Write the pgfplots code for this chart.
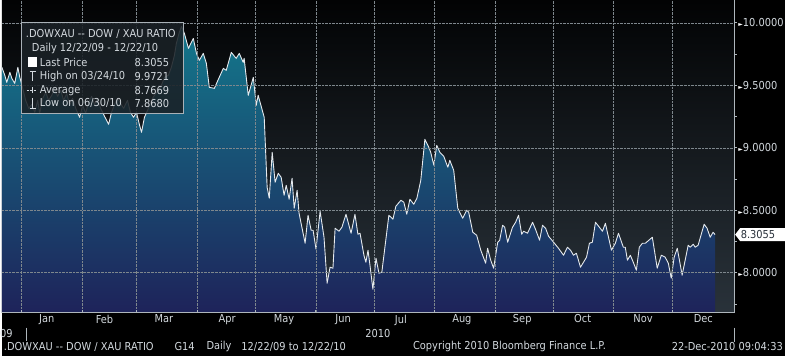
\documentclass[border=0pt]{standalone}
\usepackage{pgfplots}
\pgfplotsset{compat=1.18}
\usepackage{pgfplotstable}
\usepackage{fontspec}
\setmainfont{DejaVu Sans}[FakeStretch=0.9, Ligatures=NoCommon]
\newfontfamily\symfont{DejaVu Sans}
\definecolor{txt}{HTML}{D3D9DE}
\definecolor{gridc}{HTML}{7E878D}
\definecolor{axc}{HTML}{AEB6BC}
\definecolor{bgtop}{HTML}{020304}
\definecolor{bgmid}{HTML}{161C1F}
\definecolor{bgbot}{HTML}{29323A}
\definecolor{filltop}{HTML}{13788C}
\definecolor{fillmid}{HTML}{0E4E72}
\definecolor{fillbot}{HTML}{1E235A}
\definecolor{legbg}{HTML}{1A2126}
\definecolor{legborder}{HTML}{A9B1B7}
\definecolor{linec}{HTML}{E6EAEE}

\pgfplotstableread{
day value
-10.2 9.644
-8.7 9.580
-7.7 9.524
-6.1 9.604
-5.1 9.556
-3.6 9.516
-2.0 9.644
-1.0 9.564
0.5 9.476
2.0 9.380
3.6 9.316
5.1 9.348
6.7 9.284
8.2 9.380
9.2 9.276
10.8 9.396
12.3 9.444
13.8 9.380
15.4 9.420
16.9 9.476
18.4 9.412
20.0 9.460
21.5 9.380
23.1 9.436
24.6 9.340
26.1 9.396
27.7 9.316
29.7 9.244
31.3 9.340
32.8 9.276
34.3 9.364
35.9 9.412
37.4 9.348
38.9 9.396
40.5 9.316
42.5 9.252
44.6 9.188
46.1 9.284
47.6 9.348
49.2 9.396
50.7 9.356
52.3 9.316
54.3 9.380
55.8 9.284
57.4 9.244
58.9 9.284
60.5 9.180
61.5 9.124
63.0 9.244
64.6 9.300
66.6 9.380
68.1 9.420
70.2 9.460
71.7 9.500
73.3 9.564
75.3 9.580
76.8 9.644
78.4 9.740
79.4 9.836
80.9 9.924
82.0 9.9721
83.5 9.916
85.6 9.796
88.1 9.876
89.7 9.756
91.2 9.700
93.2 9.756
94.8 9.676
96.3 9.484
98.9 9.476
101.4 9.564
103.5 9.636
105.0 9.620
107.6 9.764
110.1 9.716
111.7 9.756
113.7 9.684
114.2 9.716
116.3 9.420
118.9 9.564
120.4 9.340
121.4 9.420
124.5 9.244
126.0 8.684
127.1 8.596
128.6 8.964
130.1 8.724
131.7 8.796
133.2 8.764
134.7 8.620
135.8 8.700
137.3 8.588
138.8 8.756
139.9 8.516
141.4 8.660
142.4 8.476
145.5 8.236
147.0 8.460
148.6 8.340
149.6 8.340
151.1 8.188
153.2 8.492
155.2 8.284
156.8 7.916
158.3 8.044
159.8 8.036
160.9 8.356
162.9 8.332
164.4 8.364
166.5 8.468
169.1 8.316
171.1 8.468
172.6 8.308
173.7 8.316
175.7 8.140
176.7 8.084
177.8 8.180
178.8 8.060
180.3 7.868
181.9 8.116
183.4 7.996
184.9 8.004
188.5 8.460
190.6 8.428
192.1 8.532
194.7 8.580
196.2 8.564
197.7 8.468
199.3 8.588
201.3 8.548
202.9 8.596
204.9 8.740
207.0 9.068
209.0 9.004
210.0 8.964
211.6 8.860
213.1 9.020
214.7 8.964
216.7 8.932
218.8 8.844
219.8 8.900
221.8 8.820
223.9 8.516
226.4 8.436
228.5 8.500
229.5 8.484
231.6 8.324
233.6 8.300
235.7 8.180
238.2 8.076
239.2 8.196
240.8 8.100
242.3 8.036
244.4 8.244
245.4 8.260
246.9 8.380
248.0 8.364
249.5 8.244
252.0 8.364
253.6 8.404
255.1 8.460
256.7 8.308
257.7 8.332
259.7 8.316
262.3 8.404
263.8 8.348
265.9 8.260
267.4 8.380
269.0 8.356
270.5 8.292
273.1 8.244
275.6 8.196
278.2 8.140
280.2 8.204
281.8 8.180
283.3 8.140
284.8 8.156
286.9 8.044
290.0 8.124
291.5 8.236
293.0 8.244
294.6 8.404
296.6 8.364
298.2 8.332
299.7 8.396
300.7 8.324
302.8 8.180
304.8 8.236
306.4 8.316
308.9 8.204
309.9 8.204
311.0 8.100
312.5 8.140
314.0 8.084
315.6 8.020
317.1 8.204
318.7 8.236
320.2 8.236
323.8 8.284
326.3 8.036
328.4 8.140
330.4 8.124
332.0 8.076
333.5 7.956
335.0 8.124
336.6 8.196
339.1 7.980
342.2 8.220
343.2 8.204
344.8 8.228
345.8 8.204
347.3 8.220
350.4 8.388
351.9 8.356
353.5 8.284
355.0 8.324
356.0 8.3055
}\ratio

\begin{document}
\begin{tikzpicture}[x=1bp,y=1bp,font=\fontsize{11}{13}\selectfont]
\fill[black] (0,-43) rectangle (785,313);
\shade[top color=bgtop, middle color=bgmid, bottom color=bgbot] (0,0) rectangle (734,313);
\begin{axis}[
  at={(0,0)}, anchor=south west,
  scale only axis, width=734bp, height=313bp,
  xmin=-10.25, xmax=365.8, ymin=7.68, ymax=10.18,
  axis on top,
  axis x line*=bottom, axis y line*=right,
  axis line style={color=axc, line width=0.8pt},
  xtick={0,31,59,90,120,151,181,212,243,273,304,334},
  xticklabels={},
  xtick align=inside,
  x tick style={color=axc, line width=0.8pt},
  major tick length=3bp, minor tick length=2.5bp,
  extra x ticks={12.8,42.5,73,105.5,134.7,165,194.7,226,257,288,319,350},
  extra x tick labels={Jan,Feb,Mar,Apr,May,Jun,Jul,Aug,Sep,Oct,Nov,Dec},
  extra x tick style={grid=none, major tick length=0pt},
  xticklabel style={text=txt, font=\fontsize{11}{13}\selectfont, yshift=1.5bp},
  ytick={8,8.5,9,9.5,10},
  minor ytick={7.75,8.25,8.75,9.25,9.75},
  ytick align=outside,
  y tick style={color=axc, line width=0.8pt},
  yticklabel pos=right,
  yticklabel={{\symfont\fontsize{6}{6}\selectfont\textcolor{white}{►}}\pgfmathprintnumber[fixed,fixed zerofill,precision=4]{\tick}},
  yticklabel style={text=txt, anchor=west, inner sep=0pt, xshift=1bp, font=\fontsize{11}{13}\selectfont},
  /pgf/number format/assume math mode=true,
  grid=major,
  major grid style={densely dotted, color=gridc, line width=0.6pt},
  clip=true,
]
\addplot[draw=none, top color=filltop, middle color=fillmid, bottom color=fillbot] table[x=day,y=value] {\ratio} \closedcycle;
\addplot[color=linec, line width=0.9pt, line join=round] table[x=day,y=value] {\ratio};
\end{axis}
% legend box
\fill[legbg, opacity=0.88] (20,200) rectangle (182,291);
\draw[legborder, line width=0.7pt] (20,200) rectangle (182,291);
\begin{scope}[every node/.style={text=txt, inner sep=0pt, anchor=west}]
\node at (24,279) {.DOWXAU {-}{-} DOW / XAU RATIO};
\node at (30,265) {Daily 12/22/09 - 12/22/10};
\node at (38,251) {Last Price};
\node at (38,237) {High on 03/24/10};
\node at (38,223) {Average};
\node at (38,210) {Low on 06/30/10};
\node at (133,251) {8.3055};
\node at (133,237) {9.9721};
\node at (133,223) {8.7669};
\node at (133,210) {7.8680};
\end{scope}
\fill[white] (26,246) rectangle (35,256);
\draw[txt, line width=0.8pt] (28,242) -- (34,242) (31,242) -- (31,232);
\draw[txt, line width=0.7pt, dash pattern=on 2bp off 1.5bp] (25,223) -- (35,223);
\draw[txt, line width=0.8pt] (31,220) -- (31,226);
\draw[txt, line width=0.8pt] (31,215) -- (31,205) (28,205) -- (34,205);
% last price tag
\fill[white] (735,78.3) -- (740,84.8) -- (785,84.8) -- (785,71.8) -- (740,71.8) -- cycle;
\node[anchor=west, inner sep=0pt, text={rgb,255:red,40;green,48;blue,58}] at (740.5,78.3) {8.3055};
% second row of the date axis
\node[anchor=west, inner sep=0pt, text=txt] at (-2,-21) {09};
\draw[axc, line width=0.8pt] (25,-15) -- (25,-28);
\node[inner sep=0pt, text=txt] at (377,-21) {2010};
\draw[axc, line width=0.8pt] (734,-15) -- (734,-29);
% footer
\begin{scope}[every node/.style={text=txt, inner sep=0pt, anchor=west}]
\node at (2,-34) {.DOWXAU {-}{-} DOW / XAU RATIO};
\node at (173,-34) {G14};
\node at (205,-34) {Daily};
\node at (240,-34) {12/22/09 to 12/22/10};
\node at (412,-34) {Copyright 2010 Bloomberg Finance L.P.};
\node[anchor=east] at (783,-34) {22-Dec-2010 09:04:33};
\end{scope}
\useasboundingbox (0,-43) rectangle (785,313);
\end{tikzpicture}
\end{document}
